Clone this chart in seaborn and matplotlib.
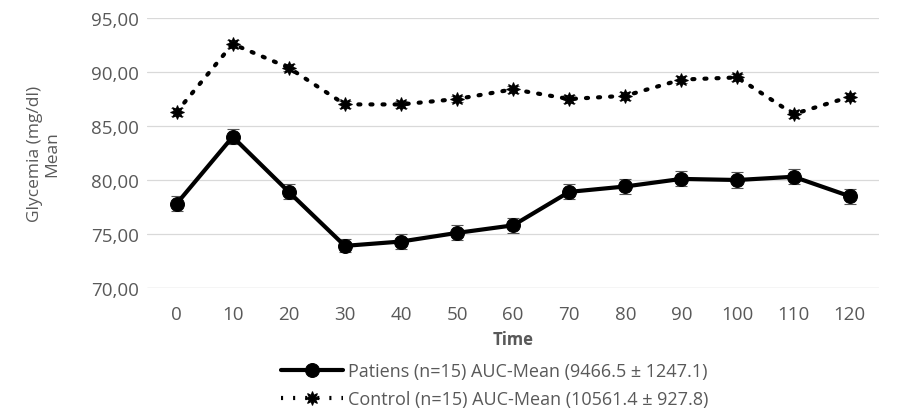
import numpy as np
import pandas as pd
import matplotlib
matplotlib.use("Agg")
import matplotlib.pyplot as plt
import seaborn as sns

time = [0, 10, 20, 30, 40, 50, 60, 70, 80, 90, 100, 110, 120]
patients = [77.8, 84.0, 78.9, 73.9, 74.3, 75.1, 75.8, 78.9, 79.4, 80.1, 80.0, 80.3, 78.5]
patients_err = [0.7, 0.7, 0.7, 0.6, 0.7, 0.7, 0.7, 0.7, 0.7, 0.7, 0.7, 0.7, 0.7]
control = [86.3, 92.6, 90.4, 87.0, 87.0, 87.5, 88.4, 87.5, 87.8, 89.3, 89.5, 86.1, 87.7]
control_err = [0.35, 0.35, 0.35, 0.35, 0.3, 0.3, 0.3, 0.35, 0.35, 0.35, 0.35, 0.35, 0.35]
lab_pat = "Patiens (n=15) AUC-Mean (9466.5 \u00b1 1247.1)"
lab_ctl = "Control (n=15) AUC-Mean (10561.4 \u00b1 927.8)"

sns.set_style("white")
plt.rcParams['font.family'] = ['Open Sans', 'DejaVu Sans']

df = pd.DataFrame({"Time": time * 2,
                   "Glycemia": patients + control,
                   "Group": [lab_pat] * len(time) + [lab_ctl] * len(time)})

fig = plt.figure(figsize=(9.01, 4.14), dpi=100)
ax = fig.add_axes([0.163, 0.302, 0.813, 0.652])

sns.lineplot(data=df, x="Time", y="Glycemia", hue="Group", style="Group",
             palette=["black", "black"], dashes={lab_pat: "", lab_ctl: (0.5, 2.4)},
             markers={lab_pat: "o", lab_ctl: (8, 1, 0)}, markersize=10,
             linewidth=3.0, markeredgecolor="black", ax=ax, legend=True)
ax.lines[1].set_dash_capstyle("round")

ax.errorbar(time, patients, yerr=patients_err, fmt="none", ecolor="#555555",
            elinewidth=0.8, capsize=4, capthick=0.8, zorder=1)
ax.errorbar(time, control, yerr=control_err, fmt="none", ecolor="#555555",
            elinewidth=0.8, capsize=4, capthick=0.8, zorder=1)

ax.set_xlim(-5.3, 125.3)
ax.set_ylim(70, 95)
ax.set_xticks(time)
ax.set_yticks([70, 75, 80, 85, 90, 95])
ax.set_yticklabels([f"{v:.2f}".replace(".", ",") for v in [70, 75, 80, 85, 90, 95]])
ax.tick_params(axis="both", colors="#595959", labelsize=13.5, length=0)
ax.tick_params(axis="x", pad=12)
ax.tick_params(axis="y", pad=6)
ax.yaxis.grid(True, color="#d9d9d9", linewidth=0.9)
for s in ax.spines.values():
    s.set_visible(False)
ax.axhline(70, color="#d9d9d9", linewidth=0.9, zorder=0)

ax.set_xlabel("Time", color="#595959", fontsize=12, fontweight="bold", labelpad=5)
ax.set_ylabel("Glycemia (mg/dl)\nMean", color="#595959", fontsize=12.5, labelpad=22,
              linespacing=1.1)

leg = ax.legend(loc="upper center", bbox_to_anchor=(0.475, -0.228), frameon=False,
                fontsize=13, handlelength=3.4, labelspacing=0.55, labelcolor="#595959",
                handletextpad=0.3, borderpad=0.2)

fig.savefig("out.png", dpi=100)
